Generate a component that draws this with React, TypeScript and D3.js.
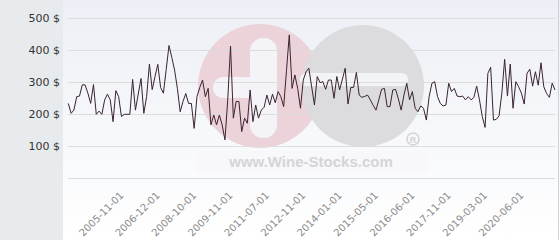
import React from "react";
import * as d3 from "d3";

const prices: number[] = [
  234, 203, 213, 255, 257, 292, 292, 266, 234, 293,
  200, 210, 200, 245, 263, 245, 177, 274, 255, 193,
  200, 200, 200, 309, 213, 263, 312, 203, 255, 357,
  277, 318, 356, 284, 266, 340, 415, 378, 338, 281,
  208, 240, 265, 234, 234, 156, 255, 284, 307, 255,
  281, 167, 198, 167, 198, 167, 120, 245, 413, 188,
  240, 240, 146, 188, 172, 276, 177, 229, 188, 213,
  222, 260, 229, 263, 236, 271, 255, 224, 336, 448,
  281, 323, 281, 219, 307, 333, 344, 286, 229, 318,
  299, 302, 278, 307, 307, 250, 318, 276, 310, 344,
  232, 284, 284, 331, 260, 253, 256, 260, 245, 228,
  213, 245, 278, 281, 224, 224, 276, 278, 248, 213,
  260, 297, 245, 271, 219, 208, 226, 219, 182, 255,
  297, 302, 255, 234, 226, 229, 297, 271, 281, 257,
  255, 257, 245, 255, 245, 253, 288, 245, 193, 159,
  328, 347, 182, 184, 195, 266, 372, 257, 357, 219,
  302, 286, 266, 232, 328, 341, 288, 333, 291, 361,
  286, 265, 253, 297, 276,
];

const tickLabels: string[] = [
  "2005-11-01", "2006-12-01", "2008-10-01", "2009-11-01", "2011-07-01", "2012-11-01",
  "2014-01-01", "2015-05-01", "2016-06-01", "2017-11-01", "2019-03-01", "2020-06-01",
];
const firstTickIndex = 20;
const tickStep = 13;

const yTicks: number[] = [100, 200, 300, 400, 500];
const gridValues: number[] = [0, 100, 200, 300, 400, 500];

const W = 560;
const H = 240;

export default function App() {
  const x = d3.scaleLinear().domain([0, prices.length - 1]).range([68.3, 555]);
  const y = d3.scaleLinear().domain([0, 500]).range([178.3, 18.3]);
  const line = d3
    .line<number>()
    .x((_, i) => x(i))
    .y((d) => y(d));

  return (
    <svg
      width={W}
      height={H}
      style={{ position: "absolute", left: 0, top: 0, display: "block" }}
      fontFamily="'DejaVu Sans', sans-serif"
    >
      <defs>
        <linearGradient id="bg" x1="0" y1="0" x2="0" y2="1">
          <stop offset="0" stopColor="#eceff5" />
          <stop offset="1" stopColor="#ffffff" />
        </linearGradient>
      </defs>
      <rect x={0} y={0} width={W} height={H} fill="url(#bg)" />
      <rect x={0} y={0} width={63} height={H} fill="#e7ebee" />
      <line x1={558.5} x2={558.5} y1={0} y2={H} stroke="#cfd2d6" />

      {/* watermark */}
      <g>
        <circle cx={260} cy={86} r={62} fill="#ecd3da" />
        <circle cx={363} cy={86} r={61} fill="#dcdcde" />
        <rect x={250} y={38} width={27} height={100} rx={13} fill="#f4f4f8" />
        <rect x={213} y={77} width={60} height={21} rx={10} fill="#f4f4f8" />
        <rect x={300} y={73} width={108} height={13} rx={6} fill="#f3f4f8" />
        <rect x={197} y={151} width={230} height={22} fill="#f7f8fa" opacity={0.8} />
        <text
          x={311}
          y={167}
          textAnchor="middle"
          fontFamily="'Liberation Sans', Arial, sans-serif"
          fontWeight="bold"
          fontSize={15}
          fill="#d4d4d6"
        >
          www.Wine-Stocks.com
        </text>
        <circle cx={413} cy={139} r={6} fill="none" stroke="#d4d4d6" strokeWidth={1.5} />
        <text x={413} y={143} textAnchor="middle" fontSize={9} fontWeight="bold" fill="#d4d4d6"
          fontFamily="'Liberation Sans', Arial, sans-serif">R</text>
      </g>

      {gridValues.map((v) => (
        <line
          key={v}
          x1={68}
          x2={555}
          y1={Math.round(y(v)) + 0.5}
          y2={Math.round(y(v)) + 0.5}
          stroke="#dcdcdf"
        />
      ))}

      {yTicks.map((v) => (
        <text key={v} x={60} y={y(v) + 4} textAnchor="end" fontSize={11} fill="#333">
          {`${v} $`}
        </text>
      ))}

      <path d={line(prices) ?? ""} fill="none" stroke="#3b2331" strokeWidth={1} />

      {tickLabels.map((t, k) => {
        const tx = x(firstTickIndex + k * tickStep);
        const ty = 196;
        return (
          <text
            key={t}
            x={tx}
            y={ty}
            textAnchor="end"
            fontSize={10}
            fill="#8a8a8a"
            transform={`rotate(-45 ${tx} ${ty})`}
          >
            {t}
          </text>
        );
      })}
    </svg>
  );
}
